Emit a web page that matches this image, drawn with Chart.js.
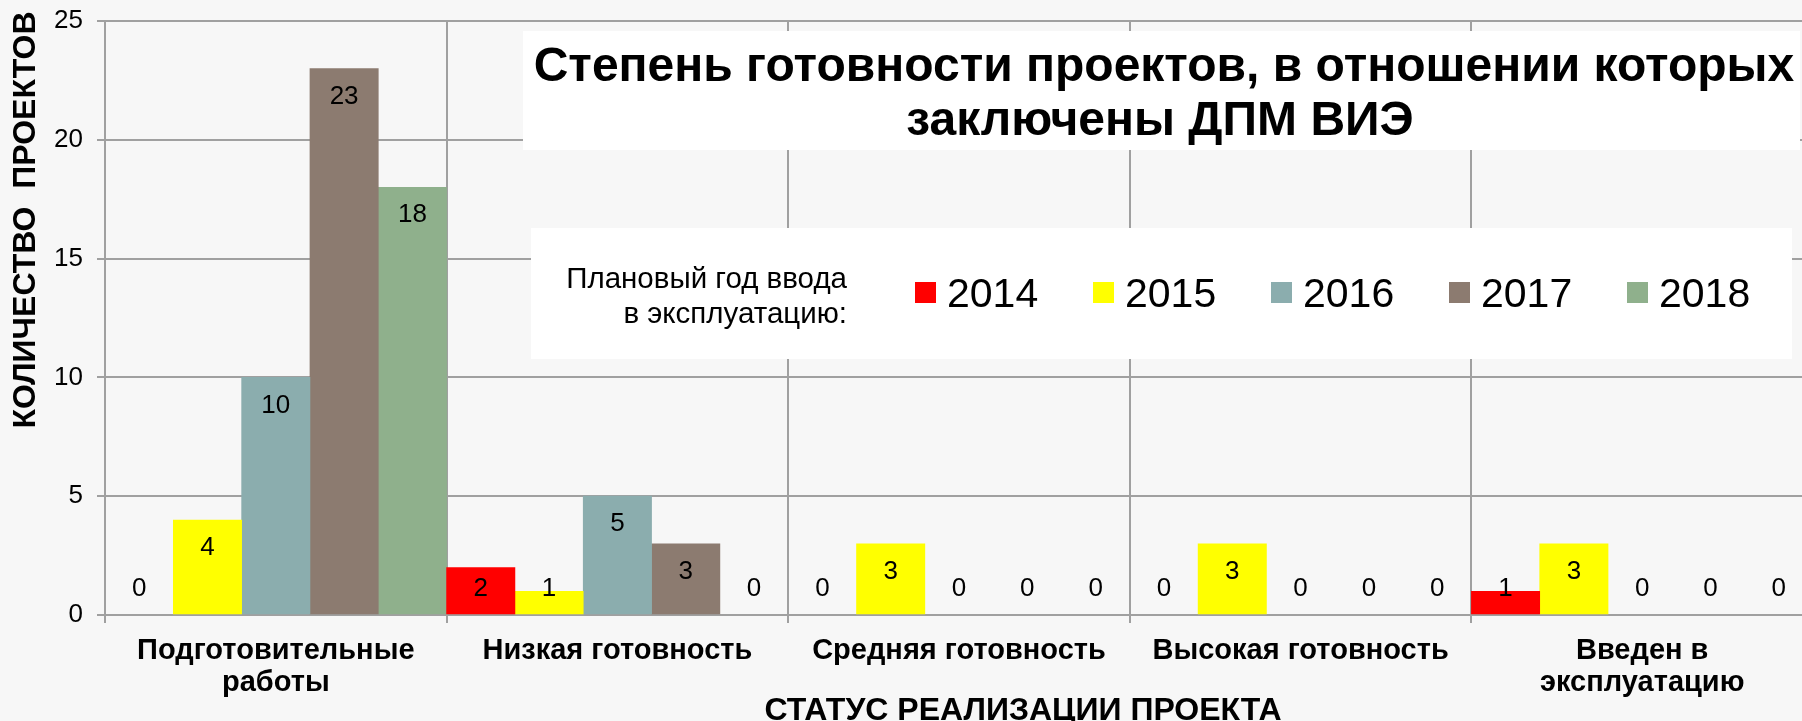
<!DOCTYPE html>
<html lang="ru">
<head>
    <meta charset="UTF-8">
    <title>Степень готовности проектов ДПМ ВИЭ</title>
    <style>
        html, body {
            margin: 0;
            padding: 0;
            background-color: #f7f7f7;
            overflow: hidden;
        }
        canvas {
            display: block;
        }
    </style>
</head>
<body>

<canvas id="statusChart" width="1830" height="721"></canvas>

<script src="https://cdn.jsdelivr.net/npm/chart.js"></script>
<script>
    // categories (status of project)
    const categories = [
        ['Подготовительные', 'работы'],
        'Низкая готовность',
        'Средняя готовность',
        'Высокая готовность',
        ['Введен в', 'эксплуатацию']
    ];

    // planned commissioning years
    const years = ['2014', '2015', '2016', '2017', '2018'];

    const values2014 = [0, 2, 0, 0, 1];
    const values2015 = [4, 1, 3, 3, 3];
    const values2016 = [10, 5, 0, 0, 0];
    const values2017 = [23, 3, 0, 0, 0];
    const values2018 = [18, 0, 0, 0, 0];

    const yTicks = [0, 5, 10, 15, 20, 25];

    const chartTitle = ['Степень готовности проектов, в отношении которых', 'заключены ДПМ ВИЭ'];
    const legendTitle = ['Плановый год ввода', 'в эксплуатацию:'];
    const yTitle = 'КОЛИЧЕСТВО  ПРОЕКТОВ';
    const xTitle = 'СТАТУС РЕАЛИЗАЦИИ ПРОЕКТА';

    const colors = ['#ff0000', '#ffff00', '#8badae', '#8c7b70', '#8fb08c'];
    const gridColor = '#a0a0a0';
    const fontName = '"Liberation Sans", Arial, sans-serif';

    const seriesValues = [values2014, values2015, values2016, values2017, values2018];

    // value labels inside the top of each bar (like Excel "inside end")
    const valueLabels = {
        id: 'valueLabels',
        afterDatasetsDraw(chart) {
            const ctx = chart.ctx;
            const base = chart.scales.y.getPixelForValue(0);
            ctx.save();
            ctx.font = '26px ' + fontName;
            ctx.fillStyle = '#000';
            ctx.textAlign = 'center';
            ctx.textBaseline = 'middle';
            chart.data.datasets.forEach((ds, i) => {
                chart.getDatasetMeta(i).data.forEach((bar, j) => {
                    const y = Math.min(bar.y + 28, base - 26);
                    ctx.fillText(String(ds.data[j]), bar.x, y);
                });
            });
            ctx.restore();
        }
    };

    // title box, legend box and axis titles
    const decorations = {
        id: 'decorations',
        afterDraw(chart) {
            const ctx = chart.ctx;
            ctx.save();

            // title box
            ctx.fillStyle = '#ffffff';
            ctx.fillRect(523, 31, 1277, 119);
            ctx.fillStyle = '#000';
            ctx.textAlign = 'center';
            ctx.textBaseline = 'alphabetic';
            ctx.font = 'bold 48px ' + fontName;
            ctx.fillText(chartTitle[0], 1164, 81);
            ctx.fillText(chartTitle[1], 1160, 135);

            // legend box
            ctx.fillStyle = '#ffffff';
            ctx.fillRect(531, 228, 1261, 131);
            ctx.fillStyle = '#000';
            ctx.textAlign = 'right';
            ctx.font = '29.5px ' + fontName;
            ctx.fillText(legendTitle[0], 847, 288);
            ctx.fillText(legendTitle[1], 847, 323);

            ctx.textAlign = 'left';
            ctx.font = '41px ' + fontName;
            chart.data.datasets.forEach((ds, i) => {
                const x = 915 + i * 178;
                ctx.fillStyle = colors[i];
                ctx.fillRect(x, 282, 21, 21);
                ctx.fillStyle = '#000';
                ctx.fillText(ds.label, x + 32, 307);
            });

            // y axis title
            ctx.font = 'bold 32px ' + fontName;
            ctx.textAlign = 'center';
            ctx.textBaseline = 'middle';
            ctx.translate(26, 220);
            ctx.rotate(-Math.PI / 2);
            ctx.fillText(yTitle, 0, 0);
            ctx.setTransform(1, 0, 0, 1, 0, 0);

            // x axis title
            ctx.textBaseline = 'alphabetic';
            ctx.fillText(xTitle, 1023, 720);

            ctx.restore();
        }
    };

    const statusData = {
        labels: categories,
        datasets: years.map((year, i) => ({
            label: year,
            data: seriesValues[i],
            // zero-height bars are left unpainted so no hairline shows at the base
            backgroundColor: c => (c.raw === 0 ? 'rgba(0,0,0,0)' : colors[i]),
            borderWidth: 0,
            categoryPercentage: 1.0,
            barPercentage: 1.0
        }))
    };

    const statusConfig = {
        type: 'bar',
        data: statusData,
        options: {
            responsive: false,
            animation: false,
            layout: {
                padding: { top: 21, right: 17, left: 0, bottom: 0 }
            },
            plugins: {
                legend: { display: false },
                title: { display: false },
                tooltip: { enabled: false }
            },
            scales: {
                x: {
                    offset: true,
                    grid: {
                        offset: true,
                        color: gridColor,
                        lineWidth: 2,
                        tickLength: 8
                    },
                    border: { color: gridColor, width: 2 },
                    ticks: {
                        color: '#000',
                        maxRotation: 0,
                        autoSkip: false,
                        padding: 12,
                        font: { family: fontName, size: 29, weight: 'bold', lineHeight: 1.1 }
                    },
                    afterFit(scale) { scale.height = 106; }
                },
                y: {
                    min: yTicks[0],
                    max: yTicks[yTicks.length - 1],
                    afterBuildTicks(scale) {
                        scale.ticks = yTicks.map(v => ({ value: v }));
                    },
                    grid: {
                        color: gridColor,
                        lineWidth: 2,
                        tickLength: 8
                    },
                    border: { color: gridColor, width: 2 },
                    ticks: {
                        color: '#000',
                        padding: 14,
                        font: { family: fontName, size: 26 }
                    },
                    afterFit(scale) {
                        scale.width = 105;
                        scale.paddingTop = 0;
                        scale.paddingBottom = 0;
                    }
                }
            }
        },
        plugins: [valueLabels, decorations]
    };

    window.onload = function() {
        const ctx = document.getElementById('statusChart').getContext('2d');
        window.statusChart = new Chart(ctx, statusConfig);
    };
</script>

</body>
</html>
